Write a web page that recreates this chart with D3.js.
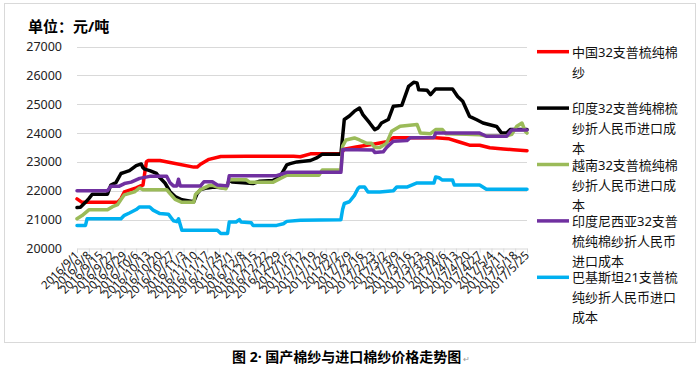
<!DOCTYPE html>
<html>
<head>
<meta charset="utf-8">
<script src="https://cdn.jsdelivr.net/npm/d3@7"></script>
<style>
  body { margin: 0; background: #fff; }
  text { font-family: "Noto Sans", "Noto Sans CJK SC", sans-serif; }
  .grid line { stroke: #d9d9d9; }
  .line { fill: none; stroke-width: 3.5; stroke-linejoin: round; stroke-linecap: round; }
</style>
</head>
<body>
<script>
var w = 699, h = 371;

// weekly tick labels on the x axis
var weeks = ["2016/9/1","2016/9/8","2016/9/15","2016/9/22","2016/9/29","2016/10/6","2016/10/13",
  "2016/10/20","2016/10/27","2016/11/3","2016/11/10","2016/11/17","2016/11/24","2016/12/1",
  "2016/12/8","2016/12/15","2016/12/22","2016/12/29","2017/1/5","2017/1/12","2017/1/19",
  "2017/1/26","2017/2/2","2017/2/9","2017/2/16","2017/2/23","2017/3/2","2017/3/9","2017/3/16",
  "2017/3/23","2017/3/30","2017/4/6","2017/4/13","2017/4/20","2017/4/27","2017/5/4",
  "2017/5/11","2017/5/18","2017/5/25"];

var yTicks = [20000, 21000, 22000, 23000, 24000, 25000, 26000, 27000];

// series as [date, yuan/ton]
var china = [["2016/9/1",21720],["2016/9/4",21600],["2016/9/25",21600],["2016/9/27",21730],["2016/9/29",21960],
  ["2016/10/6",22100],["2016/10/9",22180],["2016/10/10",22200],["2016/10/12",23000],["2016/10/13",23050],
  ["2016/10/20",23050],["2016/10/26",22980],["2016/11/9",22820],["2016/11/11",22820],["2016/11/13",22920],
  ["2016/11/18",23090],["2016/11/25",23190],["2016/12/10",23200],["2017/1/7",23200],["2017/1/11",23180],
  ["2017/1/17",23280],["2017/2/4",23290],["2017/2/6",23440],["2017/2/13",23520],["2017/2/23",23610],
  ["2017/3/3",23700],["2017/3/7",23840],["2017/4/1",23840],["2017/4/9",23800],["2017/4/15",23690],
  ["2017/4/21",23580],["2017/4/27",23580],["2017/5/3",23490],["2017/5/11",23450],["2017/5/17",23420],
  ["2017/5/25",23390]];

var india = [["2016/9/1",21420],["2016/9/3",21430],["2016/9/6",21600],["2016/9/8",21730],["2016/9/10",21880],
  ["2016/9/19",21880],["2016/9/21",22200],["2016/9/24",22280],["2016/9/27",22600],["2016/9/29",22640],
  ["2016/10/2",22700],["2016/10/6",22870],["2016/10/9",22930],["2016/10/10",22800],["2016/10/11",22750],
  ["2016/10/14",22700],["2016/10/18",22600],["2016/10/20",22450],["2016/10/23",22270],["2016/10/26",21970],
  ["2016/10/29",21800],["2016/11/2",21690],["2016/11/9",21620],["2016/11/11",21900],["2016/11/13",22040],
  ["2016/11/17",22100],["2016/11/21",22130],["2016/11/28",22100],["2016/11/30",22360],["2016/12/2",22300],
  ["2016/12/14",22250],["2016/12/18",22330],["2016/12/26",22360],["2016/12/30",22480],["2017/1/3",22900],
  ["2017/1/5",22940],["2017/1/9",23000],["2017/1/17",23050],["2017/1/21",23150],["2017/1/24",23270],
  ["2017/2/4",23270],["2017/2/6",24470],["2017/2/9",24590],["2017/2/12",24760],["2017/2/15",24870],
  ["2017/2/17",24640],["2017/2/21",24350],["2017/2/24",24120],["2017/2/26",24180],["2017/2/28",24350],
  ["2017/3/4",24470],["2017/3/7",24930],["2017/3/12",24960],["2017/3/16",25620],["2017/3/19",25760],
  ["2017/3/21",25740],["2017/3/22",25500],["2017/3/27",25480],["2017/3/29",25330],["2017/4/1",25530],
  ["2017/4/11",25530],["2017/4/14",25270],["2017/4/17",25100],["2017/4/21",24580],["2017/4/25",24470],
  ["2017/4/29",24350],["2017/5/3",24290],["2017/5/7",24230],["2017/5/10",24000],["2017/5/13",24000],
  ["2017/5/15",24120],["2017/5/25",24120]];

var vietnam = [["2016/9/1",21030],["2016/9/4",21140],["2016/9/8",21340],["2016/9/19",21340],["2016/9/22",21450],
  ["2016/9/25",21520],["2016/9/27",21700],["2016/9/29",21860],["2016/10/5",21960],["2016/10/8",22100],
  ["2016/10/10",22040],["2016/10/24",22040],["2016/10/26",21900],["2016/10/29",21700],["2016/11/2",21600],
  ["2016/11/9",21600],["2016/11/10",21870],["2016/11/13",22040],["2016/11/18",22180],["2016/11/20",22190],
  ["2016/11/23",22130],["2016/11/28",22070],["2016/11/30",22380],["2016/12/10",22380],["2016/12/12",22300],
  ["2016/12/26",22300],["2016/12/30",22420],["2017/1/3",22540],["2017/1/22",22540],["2017/1/24",22720],
  ["2017/2/4",22720],["2017/2/5",23550],["2017/2/7",23760],["2017/2/12",23830],["2017/2/15",23760],
  ["2017/2/19",23650],["2017/2/22",23650],["2017/2/24",23500],["2017/2/27",23500],["2017/3/3",23650],
  ["2017/3/6",24060],["2017/3/11",24240],["2017/3/21",24300],["2017/3/23",24000],["2017/3/29",23980],
  ["2017/4/1",24120],["2017/4/5",24120],["2017/4/7",23980],["2017/4/19",23960],["2017/4/27",23940],
  ["2017/5/1",23900],["2017/5/13",23900],["2017/5/16",23960],["2017/5/19",24240],["2017/5/22",24350],
  ["2017/5/24",24060],["2017/5/25",24000]];

var indonesia = [["2016/9/1",22000],["2016/9/19",22000],["2016/9/21",22160],["2016/9/26",22160],["2016/9/29",22250],
  ["2016/10/3",22300],["2016/10/8",22430],["2016/10/14",22500],["2016/10/24",22500],["2016/10/26",22280],
  ["2016/10/28",22170],["2016/10/30",22170],["2016/10/31",22400],["2016/11/1",22170],["2016/11/13",22170],
  ["2016/11/15",22310],["2016/11/20",22310],["2016/11/23",22200],["2016/11/29",22170],["2016/11/30",22520],
  ["2016/12/28",22520],["2017/1/3",22640],["2017/2/4",22640],["2017/2/5",23430],["2017/2/23",23410],
  ["2017/2/24",23330],["2017/3/1",23350],["2017/3/3",23500],["2017/3/7",23720],["2017/3/15",23740],
  ["2017/3/17",23840],["2017/3/31",23850],["2017/4/1",24000],["2017/4/27",24000],["2017/5/1",23890],
  ["2017/5/13",23890],["2017/5/16",24110],["2017/5/25",24110]];

var pakistan = [["2016/9/1",20800],["2016/9/6",20800],["2016/9/7",21030],["2016/9/27",21030],["2016/9/29",21150],
  ["2016/10/2",21230],["2016/10/6",21350],["2016/10/8",21440],["2016/10/14",21440],["2016/10/16",21330],
  ["2016/10/20",21210],["2016/10/25",21190],["2016/10/28",20960],["2016/10/30",20930],["2016/10/31",21030],
  ["2016/11/2",20630],["2016/11/23",20630],["2016/11/25",20520],["2016/11/29",20520],["2016/11/30",20920],
  ["2016/12/4",20920],["2016/12/6",21000],["2016/12/7",20920],["2016/12/13",20890],["2016/12/14",20800],
  ["2016/12/28",20800],["2017/1/1",20860],["2017/1/3",20940],["2017/1/11",20980],["2017/2/4",21000],
  ["2017/2/5",21350],["2017/2/6",21560],["2017/2/9",21620],["2017/2/12",21840],["2017/2/14",22070],
  ["2017/2/15",22130],["2017/2/18",22130],["2017/2/20",21960],["2017/2/27",21960],["2017/3/7",22000],
  ["2017/3/9",22130],["2017/3/15",22130],["2017/3/21",22270],["2017/3/31",22270],["2017/4/1",22480],
  ["2017/4/3",22450],["2017/4/5",22370],["2017/4/11",22370],["2017/4/12",22200],["2017/4/27",22200],
  ["2017/5/1",22050],["2017/5/25",22050]];

var names = [
  ["中国32支普梳纯棉", "纱"],
  ["印度32支普纯棉梳", "纱折人民币进口成", "本"],
  ["越南32支普梳纯棉", "纱折人民币进口成", "本"],
  ["印度尼西亚32支普", "梳纯棉纱折人民币", "进口成本"],
  ["巴基斯坦21支普梳", "纯纱折人民币进口", "成本"]
];
var colors = ["#ff0000", "#000000", "#9bbb59", "#7030a0", "#00b0f0"];
var series = [china, india, vietnam, indonesia, pakistan];

var parse = d3.timeParse("%Y/%m/%d");

var svg = d3.select("body").append("svg")
  .attr("width", w)
  .attr("height", h);

// chart frame
svg.append("rect")
  .attr("x", 4.5).attr("y", 3.5)
  .attr("width", 691).attr("height", 339)
  .attr("fill", "none").attr("stroke", "#d9d9d9");

var x = d3.scaleTime()
  .domain([parse(weeks[0]), parse(weeks[weeks.length - 1])])
  .range([77, 527]);
var y = d3.scaleLinear().domain([20000, 27000]).range([248.5, 46.5]);

svg.append("g").attr("class", "grid")
  .selectAll("line").data(yTicks.slice(1)).join("line")
  .attr("x1", 77).attr("x2", 527)
  .attr("y1", d => Math.round(y(d)) + 0.5).attr("y2", d => Math.round(y(d)) + 0.5);

svg.append("g")
  .selectAll("text").data(yTicks).join("text")
  .attr("x", 62).attr("y", d => y(d) + 4.5)
  .attr("text-anchor", "end")
  .attr("font-size", 12.5)
  .attr("fill", "#222")
  .text(d => d);

var xAxis = svg.append("g")
  .attr("transform", "translate(0,248.5)")
  .call(d3.axisBottom(x).tickValues(weeks.map(parse)).tickSize(4).tickFormat(""));
xAxis.select(".domain").attr("stroke", "#d9d9d9");
xAxis.selectAll(".tick line").attr("stroke", "#d9d9d9");

svg.append("g")
  .selectAll("text").data(weeks).join("text")
  .attr("transform", d => `translate(${x(parse(d)) + 3},256) rotate(-45)`)
  .attr("text-anchor", "end")
  .attr("font-size", 11.5)
  .attr("fill", "#111")
  .text(d => d);

var line = d3.line()
  .x(d => x(parse(d[0])))
  .y(d => y(d[1]));

svg.append("g")
  .selectAll("path").data(series).join("path")
  .attr("class", "line")
  .attr("stroke", (d, i) => colors[i])
  .attr("d", line);

// legend
var lg = svg.append("g")
  .selectAll("g").data(names).join("g")
  .attr("transform", (d, i) => `translate(0,${51.7 + i * 56.4})`);
lg.append("line")
  .attr("x1", 537).attr("x2", 569)
  .attr("stroke", (d, i) => colors[i])
  .attr("stroke-width", 3.5);
lg.selectAll("text").data(d => d).join("text")
  .attr("x", 572)
  .attr("y", (d, j) => j * 20 + 5)
  .attr("font-family", "Noto Sans CJK SC")
  .attr("font-size", 13)
  .attr("fill", "#111")
  .text(d => d);

svg.append("text")
  .attr("x", 28).attr("y", 32)
  .attr("font-family", "Noto Sans CJK SC")
  .attr("font-size", 15)
  .attr("font-weight", "bold")
  .text("单位：元/吨");

var title = svg.append("text")
  .attr("x", 232).attr("y", 362)
  .attr("font-family", "Noto Sans CJK SC")
  .attr("font-size", 14)
  .attr("font-weight", "bold")
  .text("图 2· 国产棉纱与进口棉纱价格走势图");
var tw = title.node().getComputedTextLength();
svg.append("text")
  .attr("x", 232 + tw + 2).attr("y", 362)
  .attr("font-size", 8)
  .attr("fill", "#999")
  .text("↵");
</script>
</body>
</html>
